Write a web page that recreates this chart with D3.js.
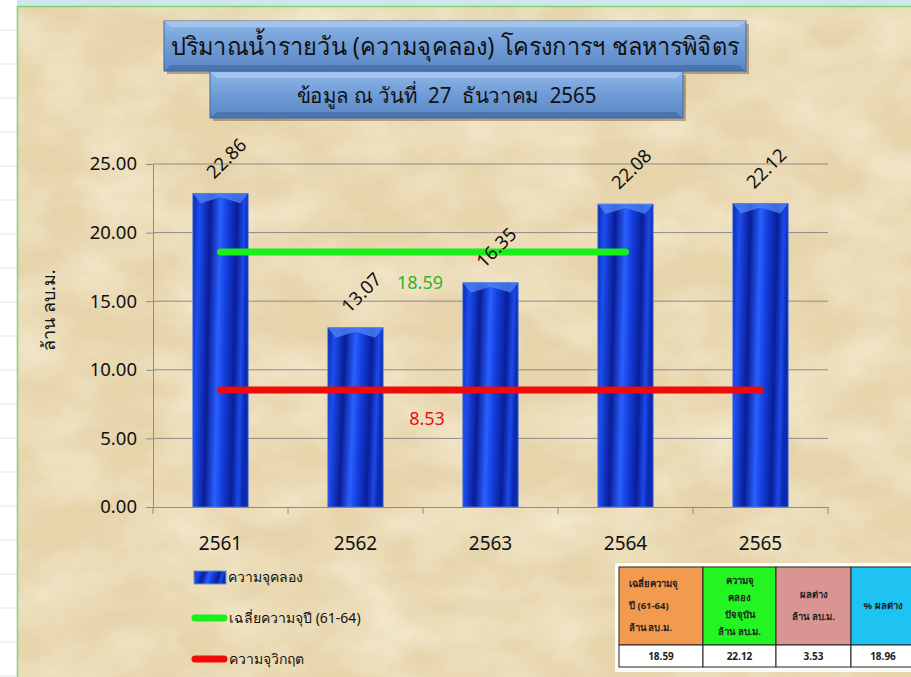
<!DOCTYPE html>
<html><head><meta charset="utf-8">
<script src="https://cdn.jsdelivr.net/npm/d3@7"></script>
<style>html,body{margin:0;padding:0;background:#fff;overflow:hidden}</style>
</head><body>
<script>
const years = ["2561","2562","2563","2564","2565"];
const capacity = [22.86, 13.07, 16.35, 22.08, 22.12];
const avgCapacity = 18.59;      // เฉลี่ยความจุปี (61-64)
const criticalCapacity = 8.53;  // ความจุวิกฤต
const yTicks = [0,5,10,15,20,25];
const tableHeaders = [
  ["เฉลี่ยความจุ","ปี (61-64)","ล้าน ลบ.ม."],
  ["ความจุ","คลอง","ปัจจุบัน","ล้าน ลบ.ม."],
  ["ผลต่าง","ล้าน ลบ.ม."],
  ["% ผลต่าง"]
];
const tableValues = ["18.59","22.12","3.53","18.96"];
const tableColors = ["#f29a4e","#22f522","#d99592","#1ec3f2"];

const W=911,H=677;
const svg=d3.select("body").append("svg").attr("width",W).attr("height",H)
  .style("font-family","'Noto Sans','DejaVu Sans',sans-serif");
const defs=svg.append("defs");

// parchment texture
const f=defs.append("filter").attr("id","paper").attr("x",0).attr("y",0).attr("width","100%").attr("height","100%");
f.append("feTurbulence").attr("type","fractalNoise").attr("baseFrequency","0.012 0.02").attr("numOctaves",4).attr("seed",7).attr("result","n");
f.append("feColorMatrix").attr("in","n").attr("type","matrix")
 .attr("values","0 0 0 0 0.93  0 0 0 0 0.85  0 0 0 0 0.66  0 0 0 -1.4 0.95").attr("result","c");
f.append("feComposite").attr("in","c").attr("in2","SourceGraphic").attr("operator","in");

// bar gradient
const g=defs.append("linearGradient").attr("id","barG").attr("x1","0").attr("x2","1").attr("y1","0").attr("y2","0.12");
[["0","#0b2aa8"],["0.12","#1d4ef2"],["0.32","#0a1d95"],["0.5","#2a60ff"],["0.62","#1540e0"],["0.8","#0a1e98"],["0.92","#1c4ae8"],["1","#0b2ab0"]]
 .forEach(s=>g.append("stop").attr("offset",s[0]).attr("stop-color",s[1]));
const tg=defs.append("linearGradient").attr("id","titleG").attr("x1",0).attr("x2",0).attr("y1",0).attr("y2",1);
[["0","#8fb6e6"],["0.5","#6f9bd6"],["1","#5a86c4"]].forEach(s=>tg.append("stop").attr("offset",s[0]).attr("stop-color",s[1]));

// sheet background bits
svg.append("rect").attr("x",0).attr("y",0).attr("width",W).attr("height",H).attr("fill","#ffffff");
for(let yy=30;yy<H;yy+=34) svg.append("line").attr("x1",0).attr("x2",17).attr("y1",yy).attr("y2",yy).attr("stroke","#e4e4e4");
svg.append("rect").attr("x",17).attr("y",0).attr("width",W-17).attr("height",6).attr("fill","#cfe6ea");
svg.append("rect").attr("x",18).attr("y",7).attr("width",W-18).attr("height",H-7).attr("fill","#e6d4ab");
svg.append("rect").attr("x",18).attr("y",7).attr("width",W-18).attr("height",H-7).attr("fill","#fff").attr("filter","url(#paper)");
svg.append("line").attr("x1",17).attr("x2",W).attr("y1",6.5).attr("y2",6.5).attr("stroke","#7ad67a").attr("stroke-width",1.5);
svg.append("line").attr("x1",17.5).attr("x2",17.5).attr("y1",6).attr("y2",H).attr("stroke","#7ad67a").attr("stroke-width",1.5);

// title boxes
function box(x,y,w,h,txt,fs,tl){
  svg.append("rect").attr("x",x+3).attr("y",y+3).attr("width",w).attr("height",h).attr("fill","rgba(60,50,30,0.35)");
  svg.append("rect").attr("x",x).attr("y",y).attr("width",w).attr("height",h).attr("fill","url(#titleG)").attr("stroke","#3e6aa8").attr("stroke-width",1);
  svg.append("polygon").attr("points",`${x},${y} ${x+w},${y} ${x+w-7},${y+6} ${x+7},${y+6}`).attr("fill","#a9c8ee").attr("opacity",0.8);
  svg.append("polygon").attr("points",`${x},${y+h} ${x+w},${y+h} ${x+w-7},${y+h-6} ${x+7},${y+h-6}`).attr("fill","#40689e").attr("opacity",0.6);
  svg.append("text").attr("x",x+w/2).attr("y",y+h/2).attr("dy","0.36em").attr("text-anchor","middle")
    .attr("font-size",fs).attr("fill","#111").attr("textLength",tl).attr("lengthAdjust","spacingAndGlyphs")
    .style("white-space","pre").text(txt);
}
box(164,21,582,50,"ปริมาณน้ำรายวัน (ความจุคลอง) โครงการฯ ชลหารพิจิตร",25,568);
box(210,72,473,46,"ข้อมูล ณ วันที่\u00a0\u00a027\u00a0\u00a0ธันวาคม\u00a0\u00a02565",21,300);

// scales
const x=d3.scaleBand().domain(years).range([153,828]).paddingInner(0.59).paddingOuter(0.295);
const y=d3.scaleLinear().domain([0,25]).range([507,164]);

// gridlines
svg.append("g").selectAll("line").data(yTicks.filter(d=>d>0)).join("line")
  .attr("x1",153).attr("x2",828).attr("y1",d=>y(d)).attr("y2",d=>y(d)).attr("stroke","#8c8c8c").attr("stroke-width",1);

// y axis
const ya=svg.append("g").attr("transform","translate(153,0)")
  .call(d3.axisLeft(y).tickValues(yTicks).tickSize(7).tickPadding(9).tickFormat(d3.format(".2f")));
ya.select(".domain").attr("stroke","#8c8c8c");
ya.selectAll(".tick line").attr("stroke","#8c8c8c");
ya.selectAll("text").attr("font-size",18.5).attr("fill","#111").style("font-family","'Noto Sans',sans-serif");

// x axis
const xa=svg.append("g").attr("transform","translate(0,507)")
  .call(d3.axisBottom(x).tickSize(0).tickPadding(30));
xa.select(".domain").attr("stroke","#8c8c8c");
xa.selectAll("text").attr("font-size",19).attr("fill","#111").style("font-family","'Noto Sans',sans-serif");
const step=x.step();
svg.append("g").selectAll("line").data(d3.range(years.length+1)).join("line")
  .attr("x1",i=>153+i*step).attr("x2",i=>153+i*step).attr("y1",507).attr("y2",514).attr("stroke","#8c8c8c");

// y title
svg.append("text").attr("transform","translate(55,310) rotate(-90)").attr("text-anchor","middle")
  .attr("font-size",18).attr("fill","#111").text("ล้าน ลบ.ม.");

// bars
const bars=svg.append("g");
bars.selectAll("rect.bar").data(capacity).join("rect").attr("class","bar")
  .attr("x",(d,i)=>x(years[i])).attr("y",d=>y(d)).attr("width",x.bandwidth()).attr("height",d=>y(0)-y(d))
  .attr("fill","url(#barG)").attr("stroke","#5b7fd8").attr("stroke-width",0.8);
bars.selectAll("polygon.bev").data(capacity).join("polygon").attr("class","bev")
  .attr("points",(d,i)=>{const x0=x(years[i]),x1=x0+x.bandwidth(),t=y(d),m=(x0+x1)/2;
     return `${x0},${t} ${x1},${t} ${x1-8},${t+10} ${m},${t+4} ${x0+8},${t+10}`;})
  .attr("fill","#4f86f5").attr("opacity",0.75);

// reference lines
const cx=i=>x(years[i])+x.bandwidth()/2;
svg.append("line").attr("x1",cx(0)).attr("x2",cx(3)).attr("y1",y(avgCapacity)).attr("y2",y(avgCapacity))
  .attr("stroke","#19f019").attr("stroke-width",7).attr("stroke-linecap","round");
svg.append("line").attr("x1",cx(0)).attr("x2",cx(4)).attr("y1",y(criticalCapacity)).attr("y2",y(criticalCapacity))
  .attr("stroke","#f00a0a").attr("stroke-width",7).attr("stroke-linecap","round");
svg.append("text").attr("x",420).attr("y",y(avgCapacity)+37).attr("text-anchor","middle").attr("font-size",18)
  .attr("fill","#2cb52c").text(avgCapacity.toFixed(2));
svg.append("text").attr("x",427).attr("y",y(criticalCapacity)+35).attr("text-anchor","middle").attr("font-size",18)
  .attr("fill","#e81010").text(criticalCapacity.toFixed(2));

// value labels (drawn above the lines)
svg.append("g").selectAll("text").data(capacity).join("text")
  .attr("transform",(d,i)=>`translate(${x(years[i])+x.bandwidth()/2+6},${y(d)-35}) rotate(-45)`)
  .attr("text-anchor","middle").attr("dy","0.35em").attr("font-size",18.5).attr("fill","#111")
  .text(d=>d.toFixed(2));

// legend
const lg=svg.append("g").attr("font-size",14).attr("fill","#111");
lg.append("rect").attr("x",194).attr("y",571).attr("width",32).attr("height",13).attr("fill","url(#barG)").attr("stroke","#7a94c8");
lg.append("text").attr("x",228).attr("y",582).text("ความจุคลอง");
lg.append("line").attr("x1",195).attr("x2",224).attr("y1",618).attr("y2",618).attr("stroke","#19f019").attr("stroke-width",7).attr("stroke-linecap","round");
lg.append("text").attr("x",229).attr("y",623).text("เฉลี่ยความจุปี (61-64)");
lg.append("line").attr("x1",195).attr("x2",224).attr("y1",659).attr("y2",659).attr("stroke","#f00a0a").attr("stroke-width",7).attr("stroke-linecap","round");
lg.append("text").attr("x",229).attr("y",664).text("ความจุวิกฤต");

// table
const colX=[619,703,776,851,935];
svg.append("rect").attr("x",615).attr("y",563).attr("width",W-615).attr("height",109).attr("fill","#fffdf8");
const tb=svg.append("g").attr("font-size",9.5).attr("font-weight","bold").attr("fill","#222");
tableHeaders.forEach((lines,i)=>{
  const x0=colX[i],w=colX[i+1]-x0;
  tb.append("rect").attr("x",x0).attr("y",567).attr("width",w).attr("height",78).attr("fill",tableColors[i]).attr("stroke","#222").attr("stroke-width",1);
  tb.append("rect").attr("x",x0).attr("y",645).attr("width",w).attr("height",22).attr("fill","#fff").attr("stroke","#222").attr("stroke-width",1);
  const cxm=i===3?x0+32:x0+w/2;
  const lh=lines.length===4?17:22;
  const startY=606-(lines.length-1)*lh/2;
  lines.forEach((t,j)=>tb.append("text").attr("x",i===0?x0+10:cxm).attr("y",startY+j*lh).attr("dy","0.35em")
     .attr("text-anchor",i===0?"start":"middle").text(t));
  tb.append("text").attr("x",cxm).attr("y",656).attr("dy","0.35em").attr("text-anchor","middle").attr("font-size",10).text(tableValues[i]);
});
</script>
</body></html>
